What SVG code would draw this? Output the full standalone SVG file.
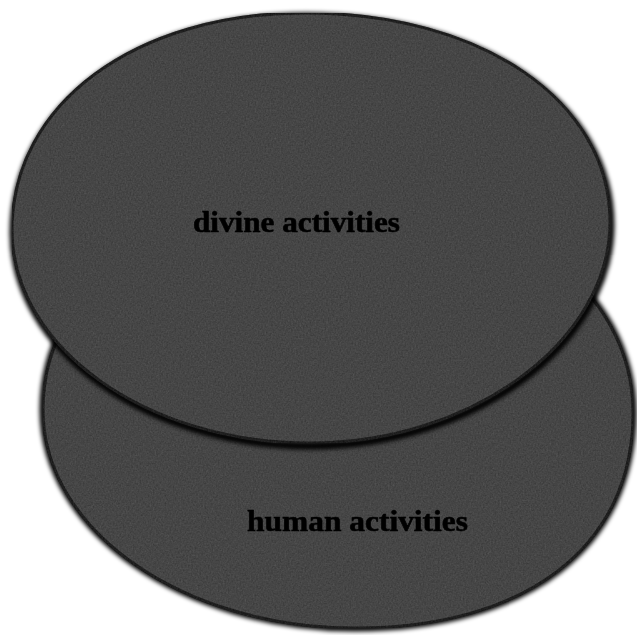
<svg xmlns="http://www.w3.org/2000/svg" width="637" height="635" viewBox="0 0 637 635">
  <style>
    .fill { fill: #363636; stroke: #050505; stroke-width: 3; }
    .rim { fill: none; stroke: #000; stroke-width: 7; }
    .label { font-family: "Liberation Serif", "Times New Roman", serif; font-weight: bold; font-size: 30px; fill: #000; stroke: #000; stroke-width: 0.6; }
    filter { color-interpolation-filters: sRGB; }
  </style>
  <defs>
    <filter id="soft" x="-5%" y="-5%" width="110%" height="110%">
      <feGaussianBlur stdDeviation="2"/>
    </filter>
    <filter id="grain" x="0" y="0" width="100%" height="100%">
      <feTurbulence type="fractalNoise" baseFrequency="0.6" numOctaves="2" seed="5" result="noise"/>
      <feColorMatrix in="noise" type="matrix" values="0.33 0.33 0.33 0 0  0.33 0.33 0.33 0 0  0.33 0.33 0.33 0 0  0 0 0 0 0.22" result="gray"/>
      <feComposite in="gray" in2="SourceGraphic" operator="in" result="tex"/>
      <feMerge>
        <feMergeNode in="SourceGraphic"/>
        <feMergeNode in="tex"/>
      </feMerge>
    </filter>
    <filter id="txt" x="-5%" y="-20%" width="110%" height="140%">
      <feGaussianBlur stdDeviation="0.5"/>
    </filter>
    <path id="humanShape" d="M 43,410 C 43,285 166,195 335,195 C 510,195 633,290 633,413 C 633,546 527,628 355,628 C 183,628 43,530 43,410 Z"/>
    <path id="divineShape" d="M 12,230 C 12,104 135,13 305,13 C 482,13 610,101 610,222 C 610,341 472,443 310,443 C 146,443 12,347 12,230 Z"/>
  </defs>

  <g id="connectors"/>

  <g id="human">
    <use href="#humanShape" class="rim" filter="url(#soft)"/>
    <use href="#humanShape" class="fill" filter="url(#grain)"/>
    <text class="label" x="247" y="531" textLength="221" lengthAdjust="spacingAndGlyphs" filter="url(#txt)">human activities</text>
  </g>

  <g id="divine">
    <use href="#divineShape" class="rim" filter="url(#soft)" transform="translate(1,3)"/>
    <use href="#divineShape" class="fill" filter="url(#grain)"/>
    <text class="label" x="193" y="232" textLength="207" lengthAdjust="spacingAndGlyphs" filter="url(#txt)">divine activities</text>
  </g>
</svg>
